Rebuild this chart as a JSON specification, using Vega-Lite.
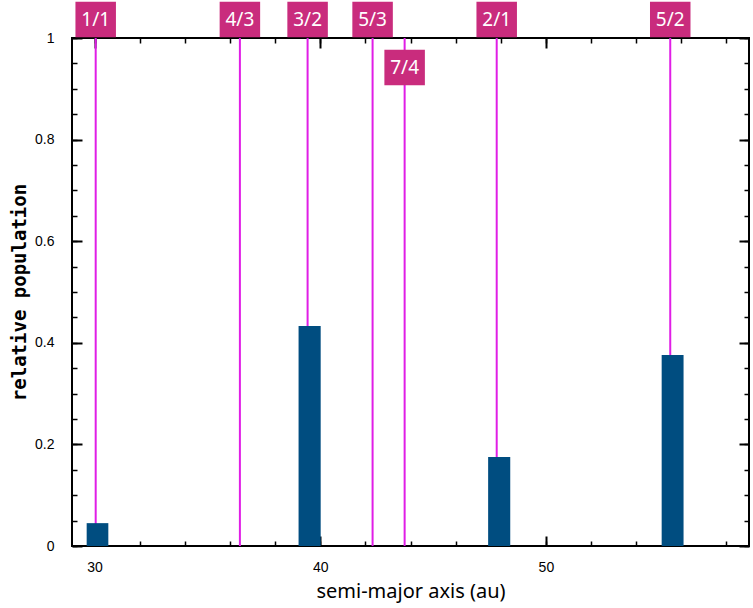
{
  "$schema": "https://vega.github.io/schema/vega-lite/v6.json",
  "width": 677,
  "height": 508,
  "autosize": {"type": "none"},
  "padding": {"left": 72, "top": 38, "right": 4, "bottom": 62},
  "config": {
    "view": {"stroke": "#000", "strokeWidth": 2},
    "axis": {"domain": false, "grid": false, "tickColor": "#000", "labelColor": "#000", "titleColor": "#000", "labelFont": "Liberation Sans", "labelFontSize": 14}
  },
  "datasets": {
    "res": [
      {"label": "1/1", "a": 30.05},
      {"label": "4/3", "a": 36.44},
      {"label": "3/2", "a": 39.44},
      {"label": "5/3", "a": 42.32},
      {"label": "7/4", "a": 43.74},
      {"label": "2/1", "a": 47.82},
      {"label": "5/2", "a": 55.51}
    ],
    "bins": [
      {"lo": 29.65, "hi": 30.61, "pop": 0.045},
      {"lo": 39.04, "hi": 40.02, "pop": 0.433},
      {"lo": 47.44, "hi": 48.42, "pop": 0.175},
      {"lo": 55.13, "hi": 56.10, "pop": 0.376}
    ]
  },
  "layer": [
    {
      "data": {"name": "res"},
      "mark": {"type": "rule", "color": "#e01ee6", "strokeWidth": 2},
      "encoding": {
        "x": {"field": "a", "type": "quantitative", "scale": {"domain": [29, 59], "nice": false, "zero": false},
          "axis": {"orient": "bottom", "values": [30,32,34,36,38,40,42,44,46,48,50,52,54,56,58], "tickSize": -5, "tickWidth": 1.5, "labels": false, "title": null}},
        "y": {"datum": 0, "type": "quantitative", "scale": {"domain": [0, 1], "nice": false, "zero": false},
          "axis": {"orient": "left", "values": [0,0.05,0.1,0.15,0.2,0.25,0.3,0.35,0.4,0.45,0.5,0.55,0.6,0.65,0.7,0.75,0.8,0.85,0.9,0.95,1], "tickSize": -5, "tickWidth": 1.5, "labels": false, "title": null}},
        "y2": {"datum": 1}
      }
    },
    {
      "data": {"name": "bins"},
      "mark": {"type": "rect", "color": "#004d80"},
      "encoding": {
        "x": {"field": "lo", "type": "quantitative", "scale": {"domain": [29, 59], "nice": false, "zero": false},
          "axis": {"orient": "bottom", "values": [30, 40, 50], "tickSize": -10, "tickWidth": 2, "labelPadding": 24, "format": "d",
            "title": "semi-major axis (au)", "titleFont": "Noto Sans", "titleFontSize": 20, "titleFontWeight": "normal", "titlePadding": 7}},
        "x2": {"field": "hi"},
        "y": {"field": "pop", "type": "quantitative", "scale": {"domain": [0, 1], "nice": false, "zero": false},
          "axis": {"orient": "left", "values": [0, 0.2, 0.4, 0.6, 0.8, 1], "tickSize": -10, "tickWidth": 2, "labelPadding": 28, "format": "~g",
            "title": "relative population", "titleFont": "DejaVu Sans Mono", "titleFontSize": 19, "titleFontWeight": "bold", "titlePadding": 5}},
        "y2": {"datum": 0}
      }
    },
    {
      "data": {"name": "res"},
      "mark": {"type": "point", "shape": "M-1,-0.875L1,-0.875L1,0.875L-1,0.875Z", "size": 1640, "filled": true, "color": "#c92c7d", "opacity": 1,
        "yOffset": {"expr": "datum.label === '7/4' ? 29.5 : -18.5"}},
      "encoding": {
        "x": {"field": "a", "type": "quantitative", "scale": {"domain": [29, 59], "nice": false, "zero": false},
          "axis": {"orient": "top", "values": [30, 40, 50], "tickSize": -10, "tickWidth": 2, "labels": false, "title": null}},
        "y": {"datum": 1, "type": "quantitative", "scale": {"domain": [0, 1], "nice": false, "zero": false},
          "axis": {"orient": "right", "values": [0, 0.2, 0.4, 0.6, 0.8, 1], "tickSize": -10, "tickWidth": 2, "labels": false, "title": null}}
      }
    },
    {
      "data": {"name": "res"},
      "mark": {"type": "text", "color": "#ffffff", "font": "Noto Sans", "fontSize": 19, "baseline": "middle", "align": "center",
        "yOffset": {"expr": "datum.label === '7/4' ? 29.5 : -18.5"}},
      "encoding": {
        "x": {"field": "a", "type": "quantitative", "scale": {"domain": [29, 59], "nice": false, "zero": false},
          "axis": {"orient": "top", "values": [30,32,34,36,38,40,42,44,46,48,50,52,54,56,58], "tickSize": -5, "tickWidth": 1.5, "labels": false, "title": null}},
        "y": {"datum": 1, "type": "quantitative", "scale": {"domain": [0, 1], "nice": false, "zero": false},
          "axis": {"orient": "right", "values": [0,0.05,0.1,0.15,0.2,0.25,0.3,0.35,0.4,0.45,0.5,0.55,0.6,0.65,0.7,0.75,0.8,0.85,0.9,0.95,1], "tickSize": -5, "tickWidth": 1.5, "labels": false, "title": null}},
        "text": {"field": "label"}
      }
    }
  ],
  "resolve": {"scale": {"x": "independent", "y": "independent"}, "axis": {"x": "independent", "y": "independent"}}
}
